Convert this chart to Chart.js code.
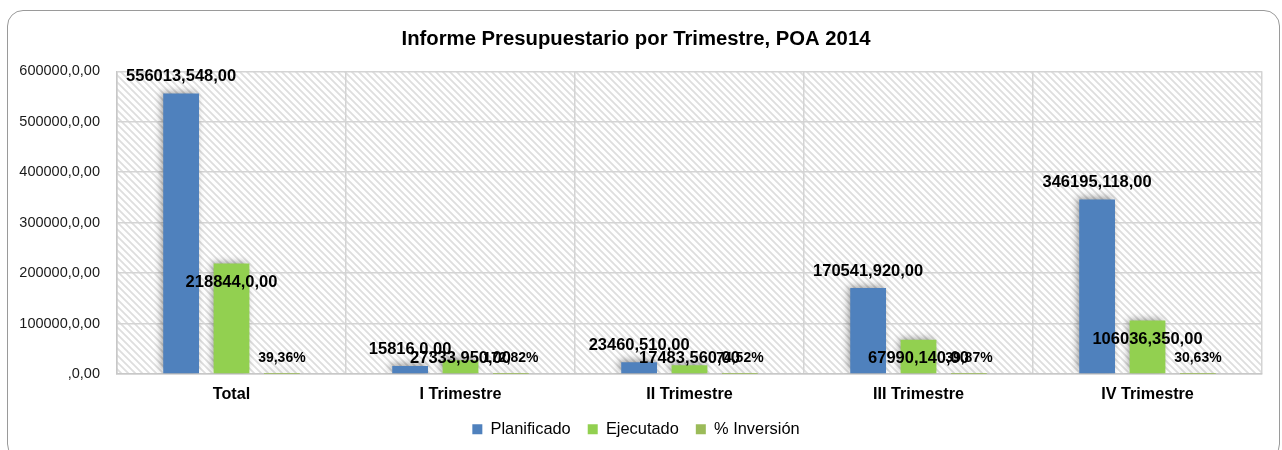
<!DOCTYPE html>
<html>
<head>
<meta charset="utf-8">
<script src="https://cdn.jsdelivr.net/npm/chart.js@4.4.1/dist/chart.umd.min.js"></script>
<style>
  html, body { margin: 0; padding: 0; background: #ffffff; }
  #wrap { position: relative; width: 1282px; height: 450px; overflow: hidden; }
  #frame { position: absolute; left: 7px; top: 10px; width: 1273px; height: 450px;
           border: 1.5px solid #9a9a9a; border-radius: 16px; box-sizing: border-box; }
  #c { position: absolute; left: 0; top: 0; }
</style>
</head>
<body>
<div id="wrap">
  <div id="frame"></div>
  <canvas id="c" width="1282" height="450"></canvas>
</div>
<script>
const categories = ['Total', 'I Trimestre', 'II Trimestre', 'III Trimestre', 'IV Trimestre'];
const planificado = [556013.548, 15816.0, 23460.51, 170541.92, 346195.118];
const ejecutado = [218844.0, 27333.95, 17483.56, 67990.14, 106036.35];
const inversion = [39.36, 172.82, 74.52, 39.87, 30.63];
const planLabels = ['556013,548,00', '15816,0,00', '23460,510,00', '170541,920,00', '346195,118,00'];
const ejecLabels = ['218844,0,00', '27333,950,00', '17483,560,00', '67990,140,00', '106036,350,00'];
const pctLabels = ['39,36%', '172,82%', '74,52%', '39,87%', '30,63%'];
const yTickLabels = [',0,00', '100000,0,00', '200000,0,00', '300000,0,00', '400000,0,00', '500000,0,00', '600000,0,00'];

const FONT = "'Liberation Sans', Arial, sans-serif";

function makePattern() {
  const s = 7;
  const p = document.createElement('canvas');
  p.width = s; p.height = s;
  const g = p.getContext('2d');
  g.fillStyle = '#ffffff';
  g.fillRect(0, 0, s, s);
  g.strokeStyle = '#dedede';
  g.lineWidth = 1.8;
  g.beginPath();
  g.moveTo(-2, -2); g.lineTo(s + 2, s + 2);
  g.moveTo(-2, s - 2); g.lineTo(2, s + 2);
  g.moveTo(s - 2, -2); g.lineTo(s + 2, 2);
  g.stroke();
  return g.createPattern(p, 'repeat');
}

const hatchPlugin = {
  id: 'hatch',
  beforeDraw(chart) {
    const { ctx, chartArea: a } = chart;
    ctx.save();
    ctx.fillStyle = makePattern();
    ctx.fillRect(a.left, a.top, a.right - a.left, a.bottom - a.top);
    ctx.restore();
  }
};

const shadowPlugin = {
  id: 'shadow',
  beforeDatasetDraw(chart) {
    const ctx = chart.ctx;
    ctx.save();
    ctx.shadowColor = 'rgba(0,0,0,0.4)';
    ctx.shadowBlur = 7;
    ctx.shadowOffsetX = -2;
    ctx.shadowOffsetY = -2;
  },
  afterDatasetDraw(chart) {
    chart.ctx.restore();
  }
};

const labelPlugin = {
  id: 'valueLabels',
  afterDatasetsDraw(chart) {
    const ctx = chart.ctx;
    ctx.save();
    ctx.fillStyle = '#000000';
    ctx.textAlign = 'center';
    ctx.textBaseline = 'middle';
    const m0 = chart.getDatasetMeta(0).data;
    const m1 = chart.getDatasetMeta(1).data;
    const m2 = chart.getDatasetMeta(2).data;
    ctx.font = 'bold 16.5px ' + FONT;
    m0.forEach((b, i) => { ctx.fillText(planLabels[i], b.x, b.y - 17); });
    m1.forEach((b, i) => { ctx.fillText(ejecLabels[i], b.x, Math.min(b.y + 19, b.base - 15)); });
    ctx.font = 'bold 14px ' + FONT;
    m2.forEach((b, i) => { ctx.fillText(pctLabels[i], b.x, b.base - 15.5); });
    ctx.restore();
  }
};

new Chart(document.getElementById('c'), {
  type: 'bar',
  data: {
    labels: categories,
    datasets: [
      { label: 'Planificado', data: planificado, backgroundColor: '#4F81BD' },
      { label: 'Ejecutado', data: ejecutado, backgroundColor: '#92D050' },
      { label: '% Inversión', data: inversion, backgroundColor: '#9BBB59' }
    ]
  },
  options: {
    responsive: false,
    animation: false,
    devicePixelRatio: 1,
    datasets: { bar: { categoryPercentage: 0.66, barPercentage: 0.71 } },
    layout: { padding: { left: 10, right: 20, top: 17, bottom: 2.6 } },
    plugins: {
      tooltip: { enabled: false },
      title: {
        display: true,
        text: 'Informe Presupuestario por Trimestre, POA 2014',
        color: '#000000',
        font: { family: FONT, size: 20.3, weight: 'bold' },
        padding: { top: 10, bottom: 20 }
      },
      legend: {
        position: 'bottom',
        labels: {
          color: '#000000',
          font: { family: FONT, size: 16.4 },
          boxWidth: 10, boxHeight: 10,
          padding: 17
        }
      }
    },
    scales: {
      x: {
        grid: { color: '#d4d4d4', lineWidth: 1.5, drawTicks: false, offset: true },
        border: { color: '#c8c8c8', width: 1.5 },
        ticks: { color: '#000000', font: { family: FONT, size: 16.2, weight: 'bold' }, padding: 11 },
        afterFit(scale) { scale.height = 30; }
      },
      y: {
        min: 0, max: 600000,
        grid: { color: '#d4d4d4', lineWidth: 1.5, drawTicks: false },
        border: { color: '#c8c8c8', width: 1.5 },
        ticks: {
          stepSize: 100000,
          color: '#1a1a1a',
          font: { family: FONT, size: 14.5 },
          padding: 17,
          callback: (v, i) => yTickLabels[i]
        },
        afterFit(scale) { scale.width = 107; }
      }
    }
  },
  plugins: [hatchPlugin, shadowPlugin, labelPlugin]
});
</script>
</body>
</html>
